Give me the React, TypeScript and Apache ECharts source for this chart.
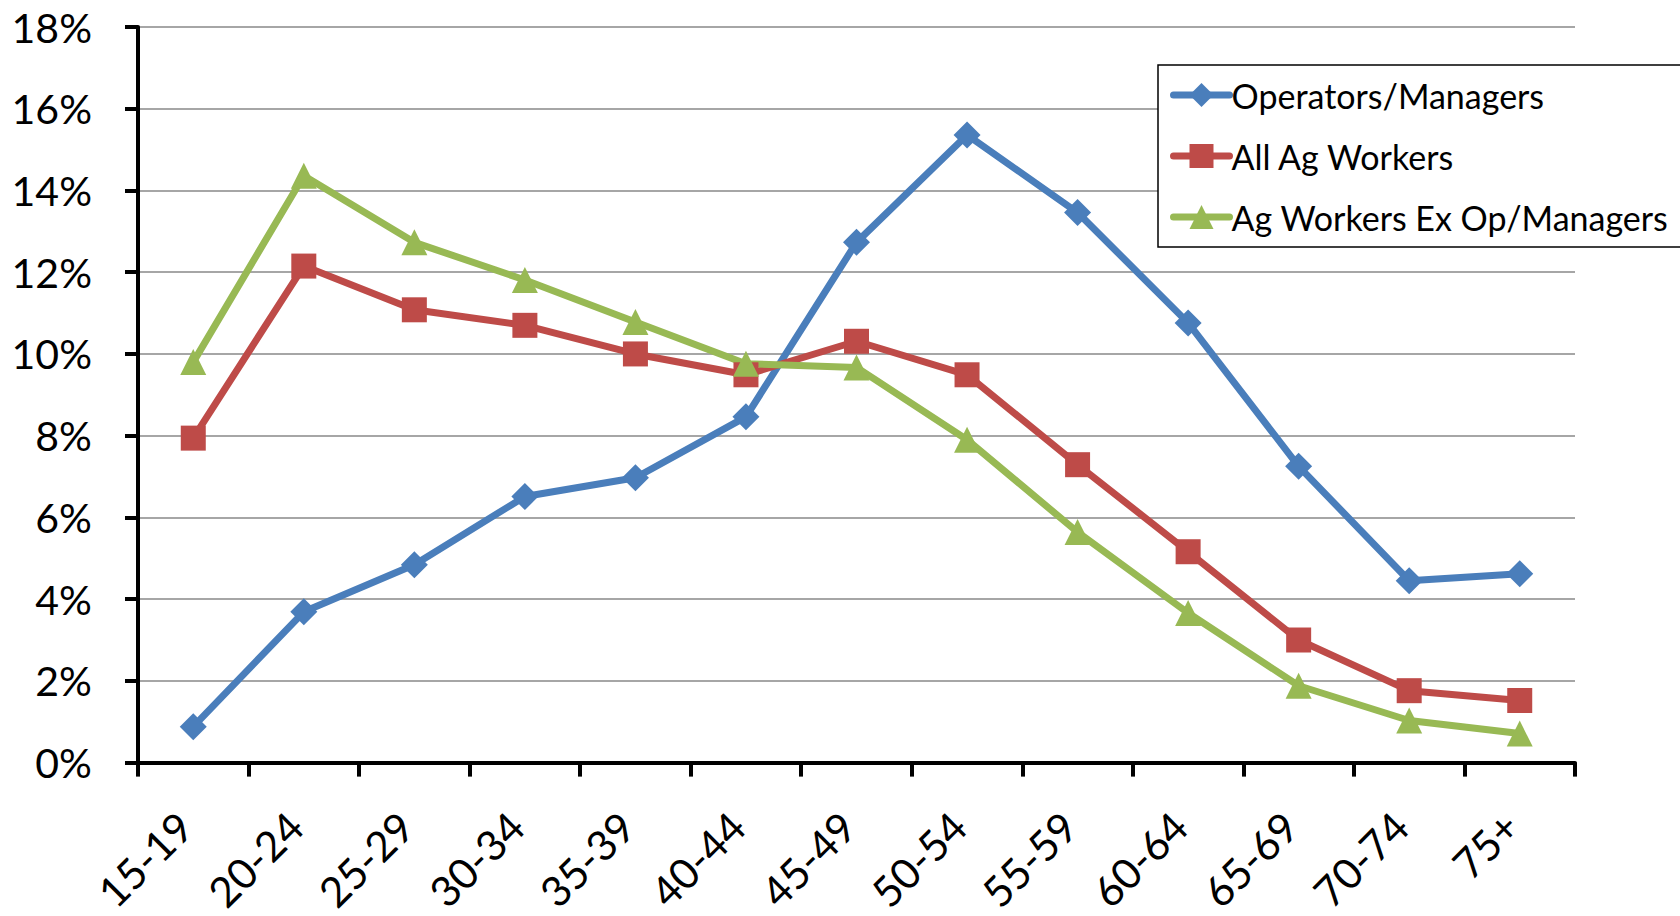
import React, { useEffect, useRef } from "react";
import * as echarts from "echarts";

// Age groups on the horizontal axis
const ageGroups = [
  "15-19", "20-24", "25-29", "30-34", "35-39", "40-44", "45-49",
  "50-54", "55-59", "60-64", "65-69", "70-74", "75+",
];

// Share of each group by age (%)
const operatorsManagers = [0.88, 3.69, 4.84, 6.51, 6.97, 8.46, 12.73, 15.36, 13.46, 10.76, 7.25, 4.45, 4.62];
const allAgWorkers = [7.94, 12.15, 11.08, 10.7, 10.0, 9.49, 10.31, 9.49, 7.29, 5.16, 3.0, 1.76, 1.52];
const agWorkersExOpManagers = [9.8, 14.36, 12.73, 11.81, 10.78, 9.76, 9.67, 7.9, 5.64, 3.66, 1.88, 1.03, 0.71];

const yTicks = { min: 0, max: 18, interval: 2 };

const FONT = "Lato, 'Open Sans', sans-serif";

export default function App() {
  const ref = useRef<HTMLDivElement>(null);

  useEffect(() => {
    if (!ref.current) return;
    const chart = echarts.init(ref.current, null, { renderer: "svg" });

    const lineSeries = (name: string, data: number[], color: string, symbol: string, size: number) => ({
      name,
      type: "line",
      data,
      symbol,
      symbolSize: size,
      itemStyle: { color },
      lineStyle: { color, width: 7 },
      emphasis: { disabled: true },
    });

    chart.setOption({
      animation: false,
      backgroundColor: "#ffffff",
      textStyle: { fontFamily: FONT },
      grid: { left: 138, right: 105, top: 27, bottom: 152, containLabel: false },
      legend: {
        orient: "vertical",
        left: 1158,
        top: 65,
        padding: [10, 14, 10, 12],
        borderColor: "#000000",
        borderWidth: 1.5,
        backgroundColor: "#ffffff",
        itemWidth: 56,
        itemHeight: 30,
        itemGap: 21,
        lineStyle: { width: 7, cap: "round" },
        textStyle: { fontSize: 34, color: "#000000", fontFamily: FONT, lineHeight: 40, padding: [0, 0, 0, -3] },
        data: ["Operators/Managers", "All Ag Workers", "Ag Workers Ex Op/Managers"],
      },
      xAxis: {
        type: "category",
        data: ageGroups,
        boundaryGap: true,
        axisLine: { lineStyle: { color: "#000000", width: 4 } },
        axisTick: { show: true, length: 14, lineStyle: { color: "#000000", width: 4 } },
        axisLabel: {
          rotate: 45,
          fontSize: 42,
          color: "#000000",
          fontFamily: FONT,
          margin: 48,
          padding: [0, 12, 0, 0],
          interval: 0,
        },
        splitLine: { show: false },
      },
      yAxis: {
        type: "value",
        min: yTicks.min,
        max: yTicks.max,
        interval: yTicks.interval,
        axisLine: { show: true, lineStyle: { color: "#000000", width: 4 } },
        axisTick: { show: true, length: 13, lineStyle: { color: "#000000", width: 4 } },
        axisLabel: {
          fontSize: 41,
          color: "#000000",
          fontFamily: FONT,
          margin: 46,
          formatter: (v: number) => `${v}%`,
        },
        splitLine: { show: true, lineStyle: { color: "#888888", width: 1.5 } },
      },
      series: [
        lineSeries("Operators/Managers", operatorsManagers, "#4A7EBB", "diamond", 27),
        lineSeries("All Ag Workers", allAgWorkers, "#BE4B48", "rect", 25),
        lineSeries("Ag Workers Ex Op/Managers", agWorkersExOpManagers, "#98B954", "triangle", 26),
      ],
    });

    return () => chart.dispose();
  }, []);

  return (
    <div
      ref={ref}
      style={{ position: "fixed", left: 0, top: 0, width: 1680, height: 916, background: "#fff" }}
    />
  );
}
